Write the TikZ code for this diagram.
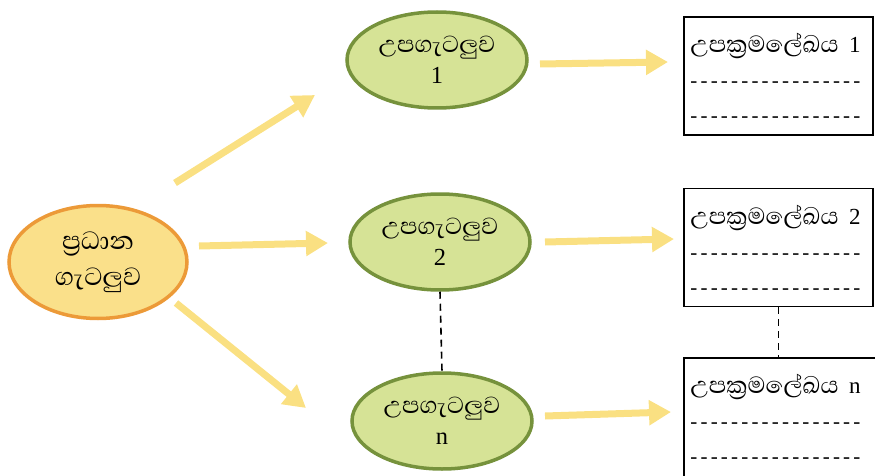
\documentclass[tikz,border=0pt]{standalone}
\usepackage{fontspec}
\setmainfont{Liberation Serif}
\newfontfamily\sinhfont[Script=Sinhala,Scale=1.42]{Abhaya Libre}
\usetikzlibrary{arrows.meta,shapes.geometric}
\definecolor{mainfill}{RGB}{250,224,138}
\definecolor{mainedge}{RGB}{236,154,56}
\definecolor{subfill}{RGB}{214,227,150}
\definecolor{subedge}{RGB}{118,146,60}
\definecolor{arrowcol}{RGB}{250,224,130}
\tikzset{
  mainell/.style={ellipse, draw=mainedge, fill=mainfill, line width=3.5pt, minimum width=178pt, minimum height=113pt, align=center, font=\fontsize{22.5}{36}\selectfont, inner sep=0pt},
  subell/.style={ellipse, draw=subedge, fill=subfill, line width=3.5pt, minimum width=180pt, minimum height=96pt, align=center, font=\fontsize{21}{31}\selectfont, inner sep=0pt},
  progbox/.style={rectangle, draw=black, line width=1.6pt, minimum width=189pt, minimum height=118pt, inner sep=0pt},
  boxtext/.style={anchor=north west, align=left, font=\fontsize{21}{35}\selectfont, inner sep=0pt},
  fatarrow/.style={draw=arrowcol, line width=7pt, -{Triangle[length=22pt,width=24pt]}},
  linkdash/.style={draw=black, line width=1.6pt, dash pattern=on 7pt off 5pt}
}
\newcommand{\elldig}[1]{{\fontsize{24.5}{31}\selectfont #1}}
\newcommand{\boxdig}[1]{{\fontsize{23}{35}\selectfont #1}}
\newcommand{\dashrow}{\makebox[170pt][s]{-\hfill-\hfill-\hfill-\hfill-\hfill-\hfill-\hfill-\hfill-\hfill-\hfill-\hfill-\hfill-\hfill-\hfill-\hfill-\hfill-}}
\begin{document}
\begin{tikzpicture}[x=1pt,y=-1pt]
\useasboundingbox (0,0) rectangle (875,476);
\clip (0,0) rectangle (875,476);
% ellipses
\node[mainell] (main) at (98,262) {{\sinhfont ප්^^^^200dරධාන}\\{\sinhfont ගැටලුව}};
\node[subell] (s1) at (437,60) {{\sinhfont උපගැටලුව}\\\elldig{1}};
\node[subell] (s2) at (440,242) {{\sinhfont උපගැටලුව}\\\elldig{2}};
\node[subell] (sn) at (442,421) {{\sinhfont උපගැටලුව}\\\elldig{n}};
% boxes
\node[progbox] (b1) at (778.5,76) {};
\node[progbox] (b2) at (778.5,247.5) {};
\node[progbox, minimum width=200pt, minimum height=125pt] (bn) at (784,420.5) {};
\node[boxtext] (t1) at ([xshift=7pt,yshift=-17pt]b1.north west) {{\sinhfont උපක්^^^^200dරමලේඛය}\ \ \boxdig{1}\\\dashrow\\\dashrow};
\node[boxtext] (t2) at ([xshift=7pt,yshift=-17pt]b2.north west) {{\sinhfont උපක්^^^^200dරමලේඛය}\ \ \boxdig{2}\\\dashrow\\\dashrow};
\node[boxtext] (tn) at ([xshift=7pt,yshift=-17pt]bn.north west) {{\sinhfont උපක්^^^^200dරමලේඛය}\ \ \boxdig{n}\\\dashrow\\\dashrow};
% arrow coordinates
\coordinate (a1s) at (175,183);
\coordinate (a1e) at (315,95);
\coordinate (a2s) at (199,246);
\coordinate (a2e) at (328,243);
\coordinate (a3s) at (176,303);
\coordinate (a3e) at (306,408);
\coordinate (r1s) at (540,64);
\coordinate (r1e) at (668,62);
\coordinate (r2s) at (545,242);
\coordinate (r2e) at (674,239);
\coordinate (r3s) at (545,416);
\coordinate (r3e) at (671,412);
\draw[fatarrow] (a1s) -- (a1e);
\draw[fatarrow] (a2s) -- (a2e);
\draw[fatarrow] (a3s) -- (a3e);
\draw[fatarrow] (r1s) -- (r1e);
\draw[fatarrow] (r2s) -- (r2e);
\draw[fatarrow] (r3s) -- (r3e);
% dashed links
\draw[linkdash] (s2.south) -- (sn.north);
\draw[linkdash] (b2.south) -- (b2.south |- bn.north);
\end{tikzpicture}
\end{document}
